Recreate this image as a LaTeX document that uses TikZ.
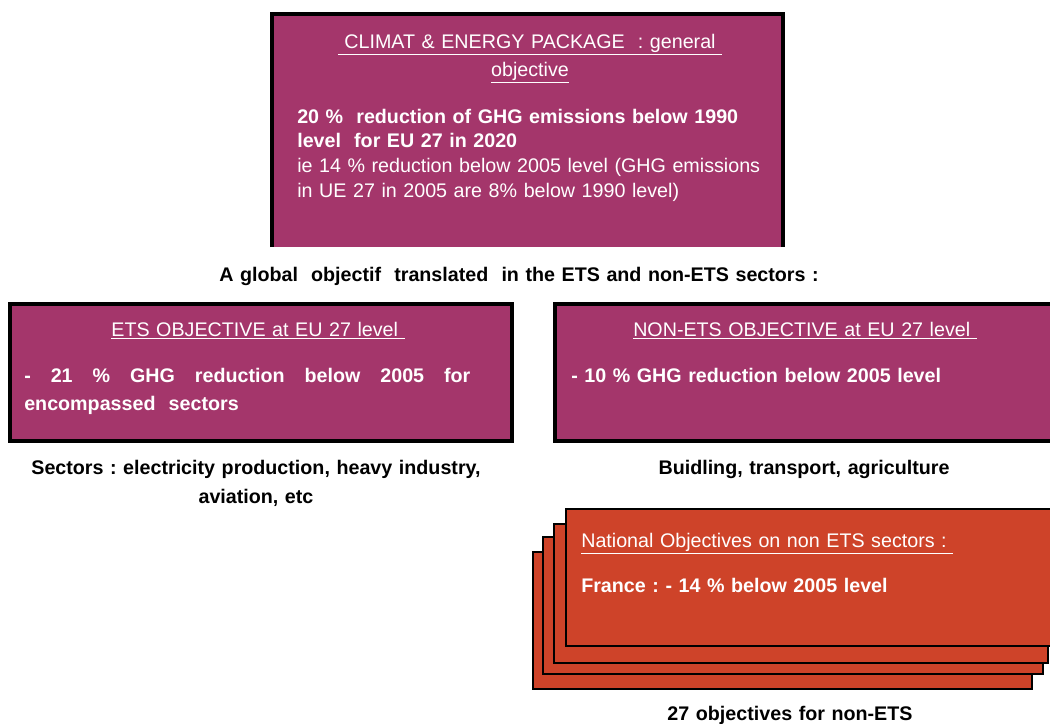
\documentclass[tikz,border=0pt]{standalone}
\usepackage{fontspec}
\setmainfont{Liberation Sans}
\frenchspacing
\definecolor{plum}{HTML}{A4366B}
\definecolor{brick}{HTML}{CE4329}
\begin{document}
\begin{tikzpicture}[x=0.025cm, y=-0.025cm,
    objbox/.style={fill=plum, draw=black, line width=2.2pt},
    card/.style={fill=brick, draw=black, line width=1.8pt},
    head/.style={text=white, font=\fontsize{14}{20}\selectfont, inner sep=0pt, align=center, text width=12cm},
    body/.style={text=white, font=\fontsize{14}{17.7}\selectfont, inner sep=0pt, align=left, text width=12cm},
    boldbody/.style={body, font=\bfseries\fontsize{14}{20}\selectfont},
    caption/.style={font=\bfseries\fontsize{14}{21}\selectfont, inner sep=0pt, align=center, text width=12cm},
]
\useasboundingbox (0,0) rectangle (1050,723);

% General objective
\fill[plum] (272,14) rectangle (783,247);
\draw[line width=2.2pt] (272,247) -- (272,14) -- (783,14) -- (783,247);
\node[head, anchor=base] (pkgtitle) at (530,48) {\underline{\ CLIMAT \& ENERGY PACKAGE \ : general\ }\\ \underline{objective}};
\node[body, anchor=base west] (pkgtext) at (297,123) {\textbf{20 \%\ \ reduction of GHG emissions below 1990}\\ \textbf{level\ \ for EU 27 in 2020}\\ ie 14 \% reduction below 2005 level (GHG emissions\\ in UE 27 in 2005 are 8\% below 1990 level)};

\node[caption, text width=20cm, anchor=base] (global) at (519,281) {A global\ \ objectif\ \ translated\ \ in the ETS and non-ETS sectors :};

% ETS
\filldraw[objbox] (10,304) rectangle (512,441);
\node[head, anchor=base] (etstitle) at (258,336) {\underline{ETS OBJECTIVE at EU 27 level\ }};
\node[boldbody, anchor=base west] (etstext) at (24,382) {\hbox to 11.15cm{-\hfill 21\hfill \%\hfill GHG\hfill reduction\hfill below\hfill 2005\hfill for}\\ encompassed\ \ sectors};
\node[caption, anchor=base] (etssectors) at (256,474) {Sectors : electricity production, heavy industry,\\ aviation, etc};

% Non-ETS
\filldraw[objbox] (555,304) rectangle (1060,441);
\node[head, anchor=base] (nontitle) at (805,336) {\underline{NON-ETS OBJECTIVE at EU 27 level\ }};
\node[boldbody, anchor=base west] (nontext) at (571,382) {- 10 \% GHG reduction below 2005 level};
\node[caption, anchor=base] (nonsectors) at (804,474) {Buidling, transport, agriculture};

% National objectives (stack of cards)
\foreach \lx/\ty/\rx/\by in {533/552/1032/689, 543/537/1043/674, 554/524/1048/663, 566/509/1060/646}
  \filldraw[card] (\lx,\ty) rectangle (\rx,\by);
\node[body, anchor=base west] (natheading) at (581,547) {\underline{National Objectives on non ETS sectors :\ }};
\node[boldbody, anchor=base west] (france) at (581,592) {France : - 14 \% below 2005 level};
\node[caption, anchor=base] (natcount) at (790,720) {27 objectives for non-ETS};
\end{tikzpicture}
\end{document}
